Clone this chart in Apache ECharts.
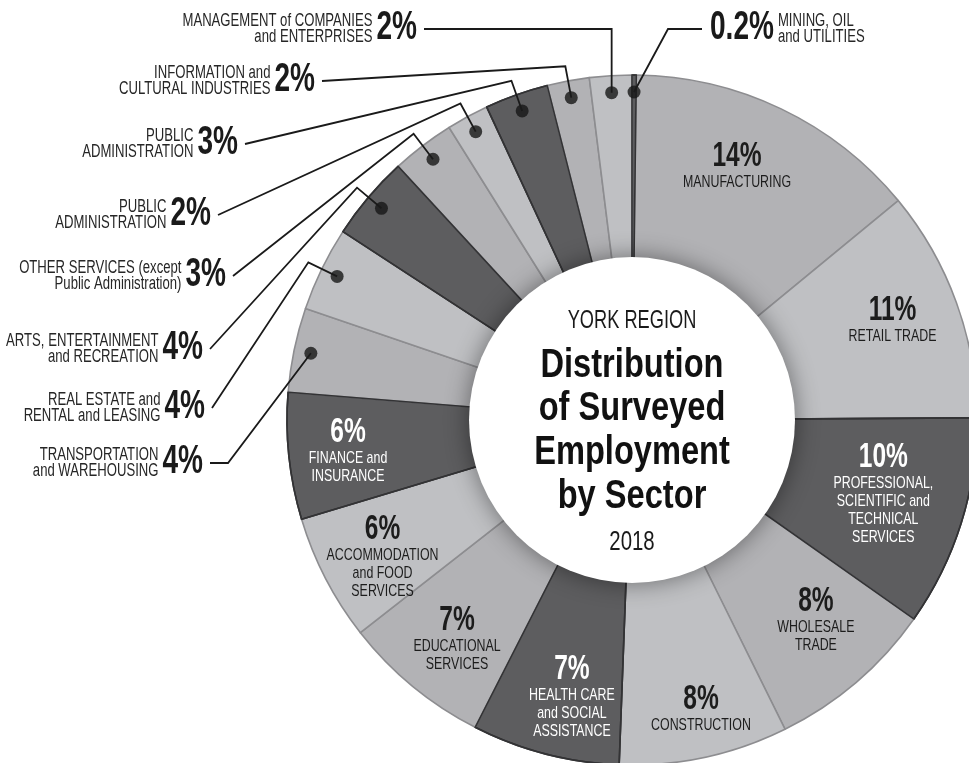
<!DOCTYPE html>
<html>
<head>
<meta charset="utf-8">
<title>York Region – Distribution of Surveyed Employment by Sector 2018</title>
<script src="https://cdn.jsdelivr.net/npm/echarts@6/dist/echarts.min.js"></script>
<style>
html,body{margin:0;padding:0;background:#ffffff;}
#chart{width:969px;height:763px;}
</style>
</head>
<body>
<div id="chart"></div>
<script>
// ---------------- DATA ----------------
const sectors = [
  'MINING, OIL and UTILITIES',
  'MANUFACTURING',
  'RETAIL TRADE',
  'PROFESSIONAL, SCIENTIFIC and TECHNICAL SERVICES',
  'WHOLESALE TRADE',
  'CONSTRUCTION',
  'HEALTH CARE and SOCIAL ASSISTANCE',
  'EDUCATIONAL SERVICES',
  'ACCOMMODATION and FOOD SERVICES',
  'FINANCE and INSURANCE',
  'TRANSPORTATION and WAREHOUSING',
  'REAL ESTATE and RENTAL and LEASING',
  'ARTS, ENTERTAINMENT and RECREATION',
  'OTHER SERVICES (except Public Administration)',
  'PUBLIC ADMINISTRATION',
  'PUBLIC ADMINISTRATION',
  'INFORMATION and CULTURAL INDUSTRIES',
  'MANAGEMENT of COMPANIES and ENTERPRISES'
];
const shares = [0.2, 14, 11, 10, 8, 8, 7, 7, 6, 6, 4, 4, 4, 3, 2, 3, 2, 2];
const shareLabels = ['0.2%', '14%', '11%', '10%', '8%', '8%', '7%', '7%', '6%', '6%', '4%', '4%', '4%', '3%', '2%', '3%', '2%', '2%'];
const sectorLabelLines = [
  'MINING, OIL\nand UTILITIES',
  'MANUFACTURING',
  'RETAIL TRADE',
  'PROFESSIONAL,\nSCIENTIFIC and\nTECHNICAL\nSERVICES',
  'WHOLESALE\nTRADE',
  'CONSTRUCTION',
  'HEALTH CARE\nand SOCIAL\nASSISTANCE',
  'EDUCATIONAL\nSERVICES',
  'ACCOMMODATION\nand FOOD\nSERVICES',
  'FINANCE and\nINSURANCE',
  'TRANSPORTATION\nand WAREHOUSING',
  'REAL ESTATE and\nRENTAL and LEASING',
  'ARTS, ENTERTAINMENT\nand RECREATION',
  'OTHER SERVICES (except\nPublic Administration)',
  'PUBLIC\nADMINISTRATION',
  'PUBLIC\nADMINISTRATION',
  'INFORMATION and\nCULTURAL INDUSTRIES',
  'MANAGEMENT of COMPANIES\nand ENTERPRISES'
];
const titleRegion = 'YORK REGION';
const titleMain = ['Distribution', 'of Surveyed', 'Employment', 'by Sector'];
const titleYear = '2018';

// ---------------- STYLE / LAYOUT ----------------
const palette = ['#5d5d5f', '#b2b2b5', '#bfc0c3'];   // dark, medium, light (repeats)
const CENTER = [632, 420];
const R_IN = 140, R_OUT = 345, R_DISC = 163, DOT_R = 328, ELBOW_R = 360;

// inside labels: [label block radius, angle offset in degrees]
const insideLayout = {
  1: [272, -2.9], 2: [278, -0.5], 3: [263, -0.3], 4: [274, -1.6], 5: [300, -1.2],
  6: [287, -2.5], 7: [283, -1.3], 8: [286, -1.9], 9: [286, -0.8]
};
// outside labels: side, x = edge of the big % text nearest the line, y = centre of the % text
const outerLayout = {
  0:  {side: 'right', x: 710, y: 28,  elbow: 'direct', ex: -34},
  10: {side: 'left',  x: 203, y: 462, elbow: 'direct', ex: 18},
  11: {side: 'left',  x: 205, y: 407, elbow: 'radial'},
  12: {side: 'left',  x: 203, y: 348, elbow: 'radial'},
  13: {side: 'left',  x: 226, y: 275, elbow: 'radial'},
  14: {side: 'left',  x: 211, y: 214, elbow: 'radial'},
  15: {side: 'left',  x: 238, y: 143, elbow: 'radial'},
  16: {side: 'left',  x: 315, y: 80,  elbow: 'radial'},
  17: {side: 'left',  x: 417, y: 28,  elbow: 'vertical'}
};
const outerIdx = Object.keys(outerLayout).map(Number);

// ---------------- FONTS ----------------
const mctx = document.createElement('canvas').getContext('2d');
function tw(font, s) { mctx.font = font; return mctx.measureText(s).width; }
function hasFont(f) {
  const s = 'MANAGEMENT of COMPANIES 0123';
  return Math.abs(tw('20px monospace', s) - tw('20px "' + f + '", monospace', s)) > 0.5;
}
const FAM = hasFont('Liberation Sans Narrow') ? '"Liberation Sans Narrow", sans-serif'
          : (hasFont('Liberation Sans') ? '"Liberation Sans", sans-serif' : 'Arial, sans-serif');
const SX = 190 / tw('18px ' + FAM, 'MANAGEMENT of COMPANIES');
const SXB = 183 / tw('bold 40px ' + FAM, 'Distribution');
const SXP = SXB * 0.86;   // the percentage figures are set tighter

// ---------------- CHART ----------------
const total = shares.reduce((a, b) => a + b, 0);
const mids = []; { let acc = 0; shares.forEach(v => { mids.push(acc + v / 2); acc += v; }); }

const chart = echarts.init(document.getElementById('chart'), null, {renderer: 'canvas'});
const option = {
  animation: false,
  backgroundColor: '#ffffff',
  polar: {center: CENTER, radius: R_OUT},
  angleAxis: {type: 'value', min: 0, max: total, startAngle: 90, clockwise: true, show: false},
  radiusAxis: {type: 'value', min: 0, max: R_OUT, show: false},
  series: [
    {
      type: 'pie', center: CENTER, radius: [R_IN, R_OUT], startAngle: 90, clockwise: true,
      silent: true, z: 1, label: {show: false}, labelLine: {show: false},
      data: shares.map((v, i) => ({
        name: sectors[i], value: v,
        itemStyle: {color: palette[i % 3], borderColor: i % 3 === 0 ? '#343436' : '#8d8d90', borderWidth: 1.6}
      }))
    },
    {
      type: 'pie', center: CENTER, radius: [R_IN, R_OUT], startAngle: 90, clockwise: true,
      silent: true, z: 2, label: {show: false}, labelLine: {show: false},
      data: shares.map((v, i) => ({
        name: sectors[i], value: v,
        itemStyle: {color: 'rgba(0,0,0,0)', borderColor: i % 3 === 0 ? '#333335' : 'rgba(0,0,0,0)', borderWidth: 1.6}
      }))
    },
    {
      type: 'pie', center: CENTER, radius: [0, R_DISC], silent: true, z: 3,
      label: {show: false}, labelLine: {show: false},
      data: [{value: 1, name: 'disc', itemStyle: {color: '#ffffff', shadowBlur: 24, shadowColor: 'rgba(0,0,0,0.45)'}}]
    },
    {
      type: 'scatter', coordinateSystem: 'polar', silent: true, z: 10,
      symbol: 'circle', symbolSize: 13,
      itemStyle: {color: '#161616'},
      data: outerIdx.map(i => [DOT_R, mids[i]])
    }
  ]
};
chart.setOption(option);

const toPx = (r, a) => chart.convertToPixel({seriesIndex: 3}, [r, a]);
function txt(x, y, text, size, bold, color, align, vAlign, lh, sx) {
  return {
    type: 'text', x: x, y: y, scaleX: sx || (bold ? SXB : SX), z: 100, silent: true,
    style: {text: text, font: (bold ? 'bold ' : '') + size + 'px ' + FAM, fill: color,
            align: align, verticalAlign: vAlign, lineHeight: lh || size}
  };
}
const els = [];

// inside labels
Object.keys(insideLayout).map(Number).forEach(i => {
  const [r, d] = insideLayout[i];
  const p = toPx(r, mids[i] + d / 360 * total);
  const n = sectorLabelLines[i].split('\n').length;
  const col = i % 3 === 0 ? '#ffffff' : '#1c1c1c';
  els.push(txt(p[0], p[1] - 13 - (n - 1) * 9, shareLabels[i], 35, true, col, 'center', 'middle', 35, SXP));
  els.push(txt(p[0], p[1] + 13, sectorLabelLines[i], 17, false, col, 'center', 'middle', 18));
});

// outside labels with leader lines
outerIdx.forEach(i => {
  const L = outerLayout[i];
  const dot = toPx(DOT_R, mids[i]);
  const lineY = L.y + 1;
  const pctW = tw('bold 40px ' + FAM, shareLabels[i]) * SXP;
  let end, elbow;
  if (L.side === 'left') {
    end = [L.x + 7, lineY];
    els.push(txt(L.x, L.y, shareLabels[i], 40, true, '#1a1a1a', 'right', 'middle', 40, SXP));
    els.push(txt(L.x - pctW - 4, L.y + 1, sectorLabelLines[i], 18, false, '#262626', 'right', 'middle', 16));
  } else {
    end = [L.x - 8, lineY];
    els.push(txt(L.x, L.y, shareLabels[i], 40, true, '#1a1a1a', 'left', 'middle', 40, SXP));
    els.push(txt(L.x + pctW + 4, L.y + 1, sectorLabelLines[i], 18, false, '#262626', 'left', 'middle', 16));
  }
  if (L.elbow === 'radial') elbow = toPx(ELBOW_R, mids[i]);
  else if (L.elbow === 'vertical') elbow = [dot[0], lineY];
  else elbow = [end[0] + L.ex, lineY];
  els.push({type: 'polyline', z: 90, silent: true,
    shape: {points: [dot, elbow, end]},
    style: {stroke: '#1a1a1a', lineWidth: 1.8, fill: null}});
});

// centre title
els.push(txt(CENTER[0], 321, titleRegion, 25, false, '#1a1a1a', 'center', 'middle'));
const mainY = [366, 409, 453, 497];
titleMain.forEach((t, k) => els.push(txt(CENTER[0], mainY[k], t, 40, true, '#111111', 'center', 'middle')));
els.push(txt(CENTER[0], 542, titleYear, 28, false, '#1a1a1a', 'center', 'middle'));

chart.setOption({graphic: {elements: els}});
</script>
</body>
</html>
